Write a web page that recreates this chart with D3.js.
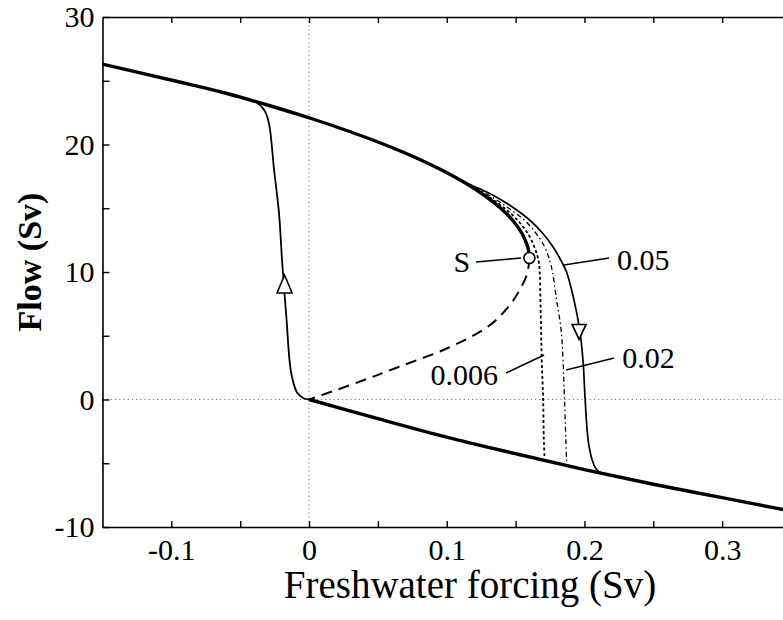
<!DOCTYPE html>
<html>
<head>
<meta charset="utf-8">
<script src="https://cdn.jsdelivr.net/npm/d3@7"></script>
<style>
  body { margin: 0; background: #fff; }
  svg text { font-family: "Liberation Serif", "DejaVu Serif", serif; fill: #000; }
</style>
</head>
<body>
<div id="chart"></div>
<script>
// stable "on" branch, upper (freshwater forcing, flow)
var upperBranch = [[-0.15, 26.3], [-0.098, 25.0], [-0.0597, 24.0], [-0.0272, 23.0], [0.0027, 22.0], [0.030, 21.0],
  [0.0547, 20.0], [0.0768, 19.0], [0.0963, 18.0], [0.1132, 17.0], [0.1275, 16.0], [0.1392, 15.0], [0.1483, 14.0],
  [0.1548, 13.0], [0.1587, 12.0], [0.1597, 11.5], [0.16, 11.1]];
// unstable branch (dashed)
var unstableBranch = [[0.16, 11.1], [0.1585, 9.9], [0.1525, 8.5], [0.145, 7.3], [0.131, 5.8], [0.102, 4.1],
  [0.065, 2.55], [0.036, 1.37], [0, 0]];
// stable "off" branch, lower
var lowerBranch = [[0, 0], [0.05, -1.5], [0.1, -2.95], [0.15, -4.25], [0.2, -5.5], [0.25, -6.65], [0.3, -7.7], [0.35, -8.75]];
// transient going up (left)
var leftTransient = [[0, 0], [-0.004, 0.1], [-0.0087, 0.55], [-0.013, 2.1], [-0.0165, 6.5], [-0.0196, 10.9],
  [-0.0218, 14.6], [-0.0254, 18.0], [-0.029, 21.6], [-0.032, 22.6], [-0.038, 23.3], [-0.048, 23.62]];
// transients going down, by rate of change
var rate005 = [[0.0963, 18.0], [0.1142, 17.0], [0.134, 16.0], [0.149, 15.0], [0.161, 14.0], [0.170, 13.0], [0.177, 12.0],
  [0.1825, 11.0], [0.187, 10.0], [0.192, 8.0], [0.1965, 5.5], [0.199, 3.0], [0.2005, 0], [0.2027, -3.2], [0.2055, -4.7],
  [0.2085, -5.45], [0.213, -5.8]];
var rate002 = [[0.0963, 18.0], [0.1138, 17.0], [0.131, 16.0], [0.145, 15.0], [0.157, 14.0], [0.165, 13.0], [0.171, 12.0],
  [0.1745, 11.0], [0.1768, 10.0], [0.1795, 8.0], [0.183, 5.5], [0.1845, 3.0], [0.1855, 0], [0.1865, -3.2], [0.187, -4.9]];
var rate0006 = [[0.0963, 18.0], [0.1135, 17.0], [0.129, 16.0], [0.142, 15.0], [0.152, 14.0], [0.159, 13.0], [0.1635, 12.0],
  [0.1665, 11.0], [0.1675, 10.0], [0.168, 8.0], [0.1685, 5.5], [0.169, 3.0], [0.170, 0], [0.1705, -3.2], [0.171, -4.5]];
var saddle = [0.16, 11.1];
var arrows = [{ x: -0.0178, y: 9.06, dir: "up" }, { x: 0.1961, y: 5.3, dir: "down" }];
var labels = [
  { text: "S", tx: 0.111, ty: 10.86, anchor: "middle", line: [[0.1213, 10.78], [0.154, 11.1]] },
  { text: "0.05", tx: 0.2237, ty: 11.0, anchor: "start", line: [[0.1852, 10.55], [0.2179, 11.1]] },
  { text: "0.02", tx: 0.2274, ty: 3.33, anchor: "start", line: [[0.1867, 2.31], [0.2215, 3.25]] },
  { text: "0.006", tx: 0.1373, ty: 2.0, anchor: "end", line: [[0.1431, 2.08], [0.1707, 3.49]] }
];
var xTicks = [-0.1, -0.05, 0, 0.05, 0.1, 0.15, 0.2, 0.25, 0.3];
var yTicks = [-10, -5, 0, 5, 10, 15, 20, 25, 30];

var W = 783, H = 620;
var svg = d3.select("#chart").append("svg").attr("width", W).attr("height", H);

var x = d3.scaleLinear().domain([-0.15, 0.35]).range([102.5, 791]);
var y = d3.scaleLinear().domain([-10, 30]).range([527, 17]);

// reference lines at zero
svg.append("line").attr("x1", x(-0.15)).attr("x2", x(0.35)).attr("y1", y(0)).attr("y2", y(0))
  .attr("stroke", "#777").attr("stroke-width", 1).attr("stroke-dasharray", "1.2,3");
svg.append("line").attr("x1", x(0)).attr("x2", x(0)).attr("y1", y(30)).attr("y2", y(-10))
  .attr("stroke", "#777").attr("stroke-width", 1).attr("stroke-dasharray", "1.2,3");

// axes
var fmtX = function (d) { return Math.abs(d * 10 - Math.round(d * 10)) < 1e-6 ? (d === 0 ? "0" : d.toFixed(1)) : ""; };
var fmtY = function (d) { return d % 10 === 0 ? String(d) : ""; };

var gx = svg.append("g").attr("transform", "translate(0," + y(-10) + ")")
  .call(d3.axisBottom(x).tickValues(xTicks).tickFormat(fmtX).tickSizeInner(-6).tickSizeOuter(0).tickPadding(10));
var gt = svg.append("g").attr("transform", "translate(0," + y(30) + ")")
  .call(d3.axisTop(x).tickValues(xTicks).tickFormat("").tickSizeInner(-6).tickSizeOuter(0));
var gy = svg.append("g").attr("transform", "translate(" + x(-0.15) + ",0)")
  .call(d3.axisLeft(y).tickValues(yTicks).tickFormat(fmtY).tickSizeInner(-7).tickSizeOuter(0).tickPadding(10));

[gx, gt, gy].forEach(function (g) {
  g.select(".domain").attr("stroke", "#000").attr("stroke-width", 1.6);
  g.selectAll(".tick line").attr("stroke", "#000").attr("stroke-width", 1.4);
  g.selectAll("text").attr("font-size", 30).attr("font-family", "Liberation Serif");
});
gx.selectAll("text").attr("dy", "0.76em");
gy.selectAll("text").attr("dx", "2");

// axis titles
svg.append("text").attr("x", 470).attr("y", 598).attr("text-anchor", "middle")
  .attr("font-size", 39).text("Freshwater forcing (Sv)");
svg.append("text").attr("transform", "translate(41,262) rotate(-90)").attr("text-anchor", "middle")
  .attr("font-size", 34).attr("font-weight", "bold").text("Flow (Sv)");

var line = d3.line().x(function (d) { return x(d[0]); }).y(function (d) { return y(d[1]); })
  .curve(d3.curveCatmullRom.alpha(0.5));

function draw(data, width, dash) {
  svg.append("path").datum(data).attr("d", line).attr("fill", "none").attr("stroke", "#000")
    .attr("stroke-width", width).attr("stroke-dasharray", dash || null)
    .attr("stroke-linecap", "butt").attr("stroke-linejoin", "round");
}

draw(unstableBranch, 2, "11,7");
draw(upperBranch, 3.4);
draw(lowerBranch, 3.4);
draw(leftTransient, 1.8);
draw(rate0006, 1.8, "3,2.5");
draw(rate002, 1.3, "5,3,1.5,3");
draw(rate005, 1.7);

// arrows
arrows.forEach(function (a) {
  var cx = x(a.x), cy = y(a.y), w = a.dir === "up" ? 7.5 : 7, h = a.dir === "up" ? 9 : 7.5;
  var s = a.dir === "up" ? -1 : 1;
  var p = "M" + cx + "," + (cy + s * h) + "L" + (cx - w) + "," + (cy - s * h) + "L" + (cx + w) + "," + (cy - s * h) + "Z";
  svg.append("path").attr("d", p).attr("fill", "#fff").attr("stroke", "#000").attr("stroke-width", 1.6);
});

// labels with leader lines
labels.forEach(function (l) {
  svg.append("line").attr("x1", x(l.line[0][0])).attr("y1", y(l.line[0][1]))
    .attr("x2", x(l.line[1][0])).attr("y2", y(l.line[1][1]))
    .attr("stroke", "#000").attr("stroke-width", 1.6);
  svg.append("text").attr("x", x(l.tx)).attr("y", y(l.ty)).attr("dy", "0.35em")
    .attr("text-anchor", l.anchor).attr("font-size", 30).text(l.text);
});

// saddle point
svg.append("circle").attr("cx", x(saddle[0])).attr("cy", y(saddle[1])).attr("r", 5.5)
  .attr("fill", "#fff").attr("stroke", "#000").attr("stroke-width", 1.6);
</script>
</body>
</html>
